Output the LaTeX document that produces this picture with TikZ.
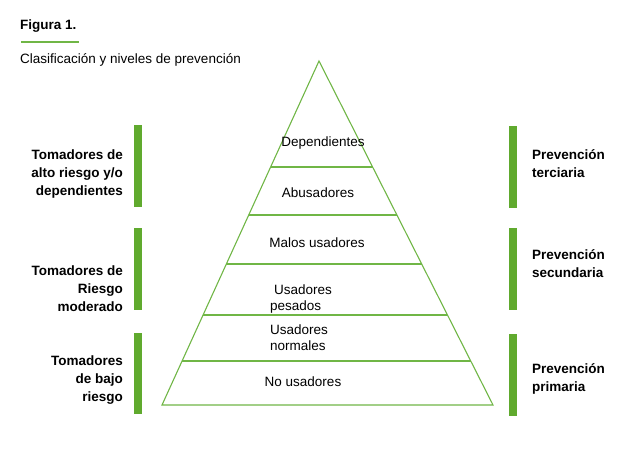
\documentclass[tikz,border=0pt]{standalone}
\usepackage{fontspec}
\setmainfont{Liberation Sans}
\definecolor{barGreen}{RGB}{96,170,46}
\definecolor{lineGreen}{RGB}{112,182,70}
\tikzset{
    bar/.style={fill=barGreen, draw=none},
    sidelabel/.style={font=\bfseries\fontsize{13.5}{18}\selectfont, inner sep=0pt},
    level/.style={font=\fontsize{13.5}{16}\selectfont, inner sep=0pt},
}
\begin{document}
\begin{tikzpicture}[x=1pt,y=-1pt]
    \useasboundingbox (0,0) rectangle (644,452);
    %% title and caption
    \node[anchor=west,inner sep=0pt,font=\bfseries\fontsize{13.5}{16}\selectfont] (title) at (20,26) {Figura 1.};
    \draw[lineGreen, line width=1.3pt] (21,42) -- (79,42);
    \node[anchor=west,level] (caption) at (20,60) {Clasificación y niveles de prevención};
    %% pyramid and levels
    \draw[lineGreen, line width=1.1pt] (319,61) coordinate (apex) -- (493,405) coordinate (br) -- (162,405) coordinate (bl) -- cycle;
    \foreach \y in {167,215,264,315,361}
        \draw[lineGreen, line width=1.1pt] ({319-0.4564*(\y-61)},\y) -- ({319+0.5058*(\y-61)},\y);
    \node[level] (dep) at (323,143) {Dependientes};
    \node[level] (abu) at (318,193) {Abusadores};
    \node[level] (mal) at (317,243) {Malos usadores};
    \node[level,anchor=west,align=left] (pes) at (270,299) {\hspace{4pt}Usadores\\pesados};
    \node[level,anchor=west,align=left] (nor) at (270,338) {Usadores\\normales};
    \node[level] (nou) at (303,382) {No usadores};
    %% left side
    \fill[bar] (134,125) rectangle (142,207);
    \fill[bar] (134,228) rectangle (142,310);
    \fill[bar] (134,333) rectangle (142,414);
    \node[sidelabel,anchor=east,align=right] (alto) at (123,174) {Tomadores de\\alto riesgo y/o\\dependientes};
    \node[sidelabel,anchor=east,align=right] (mod) at (123,289) {Tomadores de\\Riesgo\\moderado};
    \node[sidelabel,anchor=east,align=right] (bajo) at (123,380) {Tomadores\\de bajo\\riesgo};
    %% right side
    \fill[bar] (509,126) rectangle (517,208);
    \fill[bar] (509,228) rectangle (517,310);
    \fill[bar] (509,334) rectangle (517,416);
    \node[sidelabel,anchor=west,align=left] (ter) at (532,164) {Prevención\\terciaria};
    \node[sidelabel,anchor=west,align=left] (sec) at (532,264) {Prevención\\secundaria};
    \node[sidelabel,anchor=west,align=left] (pri) at (532,379) {Prevención\\primaria};
\end{tikzpicture}
\end{document}
